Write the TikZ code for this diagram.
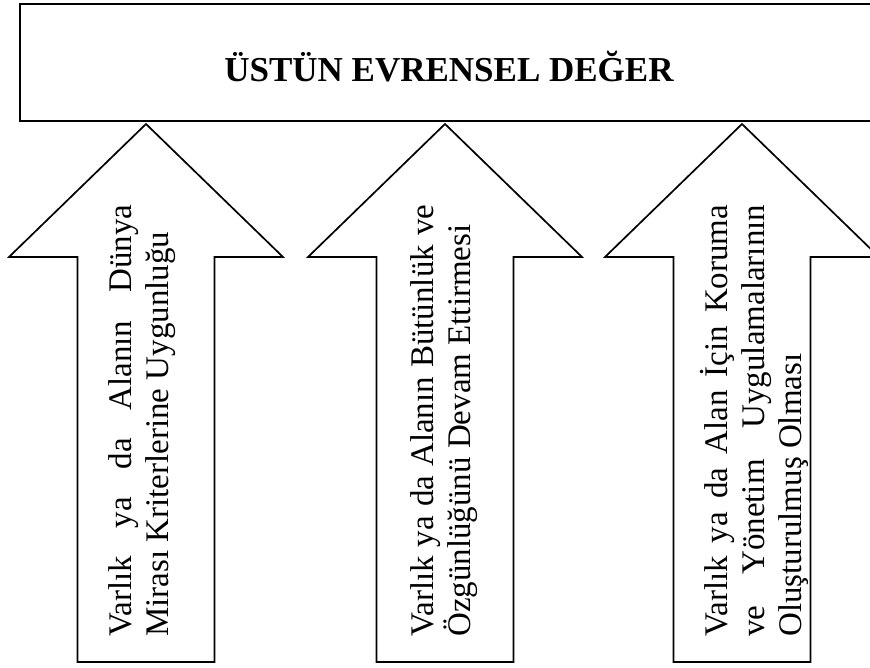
\documentclass[tikz,border=0pt]{standalone}
\usepackage{fontspec}
\setmainfont{Liberation Serif}
\newlength{\linew}
\setlength{\linew}{432pt}
\newcommand{\uparrowshape}[1]{%
  \draw[arrowline] ({#1-68.5},662) -- ({#1-68.5},257) -- ({#1-137},257) -- (#1,124)
    -- ({#1+137},257) -- ({#1+68.5},257) -- ({#1+68.5},662) -- cycle;}
\begin{document}
\begin{tikzpicture}[x=1pt,y=-1pt,
  arrowline/.style={draw=black, line width=1.7pt, line join=miter},
  topbox/.style={draw=black, line width=1.9pt, inner sep=0pt},
  vtext/.style={rotate=90, anchor=base west, inner sep=0pt, align=left,
    font=\fontsize{33}{37}\selectfont},
  titletext/.style={font=\bfseries\fontsize{35}{40}\selectfont, anchor=base, inner sep=0pt}]
\clip (0,0) rectangle (870,668);
\fill[white] (0,0) rectangle (870,668);
\node[topbox, anchor=north west, minimum width=870pt, minimum height=117pt] (top) at (19,3) {};
\node[titletext] (title) at (449,82) {ÜSTÜN EVRENSEL DEĞER};
\uparrowshape{146}
\uparrowshape{445}
\uparrowshape{742}
% anchor "base" of a multi-line node is the baseline of its last line
\node[vtext] (t1) at (168,637)
  {\makebox[\linew][s]{Varlık ya da Alanın Dünya}\\Mirası Kriterlerine Uygunluğu};
\node[vtext] (t2) at (470,637)
  {\makebox[\linew][s]{Varlık ya da Alanın Bütünlük ve}\\Özgünlüğünü Devam Ettirmesi};
\node[vtext] (t3) at (801,637)
  {\makebox[\linew][s]{Varlık ya da Alan İçin Koruma}\\\makebox[\linew][s]{ve Yönetim Uygulamalarının}\\Oluşturulmuş Olması};
\end{tikzpicture}
\end{document}
